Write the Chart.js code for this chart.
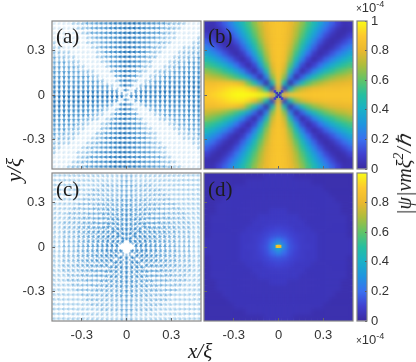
<!DOCTYPE html>
<html>
<head>
<meta charset="utf-8">
<script src="https://cdn.jsdelivr.net/npm/chart.js@4"></script>
<style>
html,body{margin:0;padding:0;background:#fff;}
#page{position:relative;width:416px;height:362px;overflow:hidden;}
canvas{position:absolute;}
.t{position:absolute;white-space:nowrap;color:#1c1c1c;font-family:"Liberation Serif",serif;line-height:1;}
.tag{font-size:21px;}
.math{font-size:21px;font-style:italic;}
.exp{font-family:"Liberation Sans",sans-serif;font-size:13px;color:#333;}
.exp small{font-size:10px;}
sup{font-size:70%;line-height:0;}
</style>
</head>
<body>
<div id="page">
  <canvas id="pa" style="left:0;top:19px"></canvas>
  <canvas id="pb" style="left:202px;top:19px"></canvas>
  <canvas id="pc" style="left:0;top:171px"></canvas>
  <canvas id="pd" style="left:202px;top:171px"></canvas>
  <canvas id="bar1" style="left:356px;top:11px"></canvas>
  <canvas id="bar2" style="left:356px;top:163px"></canvas>
  <div class="t tag" style="left:56px;top:26px">(a)</div>
  <div class="t tag" style="left:208px;top:26px">(b)</div>
  <div class="t tag" style="left:56px;top:179px">(c)</div>
  <div class="t tag" style="left:208px;top:179px">(d)</div>
  <div class="t math" style="left:188px;top:341px">x/ξ</div>
  <div class="t math" style="left:14px;top:170px;transform:translate(-50%,-50%) rotate(-90deg)">y/ξ</div>
  <div class="t math" style="left:404px;top:175px;font-size:20px;transform:translate(-50%,-50%) rotate(-90deg)">|ψ|vmξ<sup>2</sup>/ℏ</div>
  <div class="t exp" style="left:356px;top:1px"><small>×</small>10<sup>-4</sup></div>
  <div class="t exp" style="left:356px;top:333px"><small>×</small>10<sup>-4</sup></div>
</div>
<script>
// tick labels
const axisTicks = [-0.3, 0, 0.3];
const barTicksTop = [0, 0.2, 0.4, 0.6, 0.8, 1];
const barTicksBottom = [0, 0.2, 0.4, 0.6, 0.8];
const barRange = [1];

// colour map of the colour bars (position 0..100 -> colour)
const mapStops = [0, 10, 20, 30, 40, 50, 60, 70, 80, 90, 100];
const mapColors = ['#3a2aa0', '#4040d0', '#3a70f0', '#1f95e0', '#1ab0c8', '#25bfa0', '#60c468', '#acbd3c', '#eab82f', '#fdc82e', '#f9fb15'];

// arrow shade for magnitude level 0..9, one list per quiver panel
const arrowColorsA = ['#dcecf7', '#a8cfeb', '#8ec0e5', '#7ab5e0', '#68aadb', '#589fd5', '#4995cf', '#3a8ac9', '#2b7ec1', '#1e72b8'];
const arrowColorsC = ['#ffffff', '#bcdaef', '#a8d0ec', '#8abde3', '#74b0dd', '#60a4d7', '#4c97d0', '#3b8ac9', '#2b7ec1', '#1e72b8'];

// panel (a): arrow magnitude level per cell, top row first
const magA = [
'0000112445667889998776553221000',
'0000012245567889998766533210000',
'0000001244567789988765532100000',
'0000000124566789987765321100001',
'1000000122456789987653321000012',
'1100000012456789987653210001122',
'2211000001256789987632100012233',
'4221100001245689976532000122335',
'4442210000125689976320001233555',
'5544421000014679875210012355566',
'6555442210002579863101233556667',
'6666555421000469751012356667777',
'7776666554200169720135667777888',
'8877777666541049502567778888899',
'8888888887776406057888999999999',
'9999999999999982788888888888888',
'9999999998887506046777888888888',
'9988888777652059401456667777788',
'8887777665310279610024556666777',
'7777666532101579640001245556666',
'7666553321013689752000122445556',
'6655532100125789764100001244455',
'5553321000236799865210000122444',
'5332210002356799865421000011224',
'3322100012367899876521000001122',
'2211000123567899876542100000011',
'2100001233567899876542210000001',
'1000011235677899876654210000000',
'0000012355678899877654421000000',
'0000123356678999887655422100000',
'0001223556778999887665442110000'];

// panel (a): arrow direction per cell in 22.5 degree steps (hex digit, 0 = right, 4 = up)
const dirA = [
'aaa9999888888888888888889999aaa',
'aaaa99988888888888888888999aaaa',
'aaaa99998888888888888889999aaaa',
'baaaa999888888888888888999aaaab',
'bbaaaa9998888888888888999aaaabb',
'bbbbaaa99988888888888999aaabbbb',
'bbbbbaaa998888888888899aaabbbbb',
'ccbbbbaaa9988888888899aaabbbbcc',
'ccccbbbaaa98888888889aaabbbcccc',
'cccccbbbaa99888888899aabbbccccc',
'cccccccbbaa998888899aabbccccccc',
'cccccccccbba9888889abbccccccccc',
'ccccccccccbba98889abbcccccccccc',
'ccccccccccccba888abcccccccccccc',
'cccccccccccccba8abccccccccccccc',
'cccccccccccccccaccccccccccccccc',
'cccccccccccccba8abccccccccccccc',
'ccccccccccccba888abcccccccccccc',
'ccccccccccbba98889abbcccccccccc',
'cccccccccbba9888889abbccccccccc',
'cccccccbbaa998888899aabbccccccc',
'cccccbbbaa99888888899aabbbccccc',
'ccccbbbaaa98888888889aaabbbcccc',
'ccbbbbaaa9988888888899aaabbbbcc',
'bbbbbaaa998888888888899aaabbbbb',
'bbbbaaa99988888888888999aaabbbb',
'bbaaaa9998888888888888999aaaabb',
'baaaa999888888888888888999aaaab',
'aaaa99998888888888888889999aaaa',
'aaaa99988888888888888888999aaaa',
'aaa9999888888888888888889999aaa'];

// panel (c): arrow magnitude level per cell, top row first
const magC = [
'2222222222222233322222222222222',
'2222222222222234322222222222222',
'2222222222333344433332222222222',
'2222222233333344433333322222222',
'2222222333333345433333332222222',
'2222223333344455544433333222222',
'2222233334444456544444333322222',
'2222333344455566655544433332222',
'2223333444555567655554443333222',
'2223334445556667666555444333222',
'2233334455566667666655544333322',
'2233344555666777776665554433322',
'2233344556667777777666554433322',
'2233344556677777777766554433322',
'2233344556677770777766554433322',
'2233344556677700077766554433322',
'2233344556677770777766554433322',
'2233344556677777777766554433322',
'2233344556667777777666554433322',
'2233344555666777776665554433322',
'2233334455566667666655544333322',
'2223334445556667666555444333222',
'2223333444555567655554443333222',
'2222333344455566655544433332222',
'2222233334444456544444333322222',
'2222223333344455544433333222222',
'2222222333333345433333332222222',
'2222222233333344433333322222222',
'2222222222333344433332222222222',
'2222222222222234322222222222222',
'2222222222222233322222222222222'];

// panel (c): arrow direction per cell, same coding as dirA
const dirC = [
'000ffffeeeedddcccbbbaaaa9999888',
'0000ffffeeedddcccbbbaaa99998888',
'00000ffffeeeddcccbbaaa999988888',
'100000fffeeeddcccbbaaa999888887',
'110000ffffeeddcccbbaa9999888877',
'1110000fffeedddcbbbaa9998888777',
'11111000fffeeddcbbaa99988877777',
'211111000ffeeddcbbaa99888777776',
'2211111000ffeddcbba998887777766',
'22221111000feedcbaa988877776666',
'22222211100ffedcba9988777666666',
'332222221112eedcbaa677766666655',
'3333332222222eecaa6666666555555',
'33333333322222eca66666555555555',
'444443333333222c666555555544444',
'4444444444444444444444444444444',
'444445555555666c222333333344444',
'55555555566666ace22222333333333',
'5555556666666aacee2222222333333',
'556666667776aabcdee211122222233',
'6666667778899abcdeff00111222222',
'666677778889aabcdeef00011112222',
'667777788899abbcddeff0001111122',
'67777788899aabbcddeeff000111112',
'77777888999aabbcddeefff00011111',
'7778888999aabbbcdddeefff0000111',
'7788889999aabbcccddeeffff000011',
'788888999aaabbcccddeeefff000001',
'888889999aaabbcccddeeeffff00000',
'88889999aaabbbcccdddeeeffff0000',
'8889999aaaabbbcccdddeeeeffff000'];

// panel (b): |psi| in units of 1e-6, top row first
const heatB = [
[14,7,9,15,23,31,40,50,60,69,77,83,87,88,87,83,77,69,60,50,40,31,23,15,9,7,14],
[12,5,4,10,17,25,35,45,55,66,75,81,86,88,86,81,75,66,55,45,35,25,17,10,4,5,12],
[9,4,2,4,11,19,28,39,51,62,72,80,86,88,86,80,72,62,51,39,28,19,11,4,2,4,9],
[15,10,4,2,5,12,22,33,45,58,70,79,85,88,85,79,70,58,45,33,22,12,5,2,4,10,15],
[23,17,11,5,2,5,14,25,38,52,66,78,85,88,85,78,66,52,38,25,14,5,2,5,11,17,23],
[31,25,19,12,5,2,6,17,30,45,61,75,85,88,85,75,61,45,30,17,6,2,5,12,19,25,31],
[40,35,28,22,14,6,2,8,20,36,54,71,84,88,84,71,54,36,20,8,2,6,14,22,28,35,40],
[50,45,39,33,25,17,8,2,10,25,45,66,83,88,83,66,45,25,10,2,8,17,25,33,39,45,50],
[60,55,51,45,38,30,20,10,2,12,33,58,79,88,79,58,33,12,2,10,20,30,38,45,51,55,60],
[69,66,62,58,52,45,36,25,12,2,17,45,75,88,75,45,17,2,12,25,36,45,52,58,62,66,69],
[77,75,72,70,66,61,54,45,33,17,2,25,66,88,66,25,2,17,33,45,54,61,66,70,72,75,77],
[85,84,84,85,86,86,84,78,62,47,25,2,45,88,45,2,25,45,58,66,71,75,78,79,80,81,83],
[88,88,89,91,93,95,96,96,92,82,68,45,5,85,5,45,66,75,79,83,84,85,85,85,86,86,87],
[90,90,92,94,96,98,100,100,100,100,98,96,88,40,88,88,88,88,88,88,88,88,88,88,88,88,88],
[88,88,89,91,93,95,96,96,92,82,68,45,5,85,5,45,66,75,79,83,84,85,85,85,86,86,87],
[85,84,84,85,86,86,84,78,62,47,25,2,45,88,45,2,25,45,58,66,71,75,78,79,80,81,83],
[77,75,72,70,66,61,54,45,33,17,2,25,66,88,66,25,2,17,33,45,54,61,66,70,72,75,77],
[69,66,62,58,52,45,36,25,12,2,17,45,75,88,75,45,17,2,12,25,36,45,52,58,62,66,69],
[60,55,51,45,38,30,20,10,2,12,33,58,79,88,79,58,33,12,2,10,20,30,38,45,51,55,60],
[50,45,39,33,25,17,8,2,10,25,45,66,83,88,83,66,45,25,10,2,8,17,25,33,39,45,50],
[40,35,28,22,14,6,2,8,20,36,54,71,84,88,84,71,54,36,20,8,2,6,14,22,28,35,40],
[31,25,19,12,5,2,6,17,30,45,61,75,85,88,85,75,61,45,30,17,6,2,5,12,19,25,31],
[23,17,11,5,2,5,14,25,38,52,66,78,85,88,85,78,66,52,38,25,14,5,2,5,11,17,23],
[15,10,4,2,5,12,22,33,45,58,70,79,85,88,85,79,70,58,45,33,22,12,5,2,4,10,15],
[9,4,2,4,11,19,28,39,51,62,72,80,86,88,86,80,72,62,51,39,28,19,11,4,2,4,9],
[5,4,4,10,17,25,35,45,55,66,75,81,86,88,86,81,75,66,55,45,35,25,17,10,4,4,5],
[5,4,9,15,23,31,40,50,60,69,77,83,87,88,87,83,77,69,60,50,40,31,23,15,9,4,5]];

// dark cross at the middle of panel (b)
const coreX = [0, 0.012, -0.012, 0.012, -0.012, 0.024, -0.024, 0.024, -0.024];
const coreY = [0, 0.012, 0.012, -0.012, -0.012, 0.024, 0.024, -0.024, -0.024];
const coreV = [3, 5, 5, 5, 5, 10, 10, 10, 10];

// panel (d): |psi| in units of 1e-6, top row first
const heatD = [
[2,2,2,3,3,3,3,3,3,3,3,3,3,3,3,3,3,3,3,3,3,3,3,3,2,2,2],
[2,3,3,3,3,3,3,3,3,3,3,5,5,5,5,5,3,3,3,3,3,3,3,3,3,3,2],
[3,3,3,3,3,3,3,3,5,5,5,5,5,5,5,5,5,5,5,3,3,3,3,3,3,3,3],
[3,3,3,3,3,3,5,5,5,5,5,5,5,5,5,5,5,5,5,5,5,3,3,3,3,3,3],
[3,3,3,3,3,5,5,5,5,5,5,5,5,5,5,5,5,5,5,5,5,5,3,3,3,3,3],
[3,3,3,3,5,5,5,5,5,5,5,5,5,5,5,5,5,5,5,5,5,5,5,3,3,3,3],
[3,3,3,5,5,5,5,5,5,5,5,5,5,5,5,5,5,5,5,5,5,5,5,5,3,3,3],
[3,3,3,5,5,5,5,5,5,5,5,5,7,7,7,5,5,5,5,5,5,5,5,5,3,3,3],
[3,3,5,5,5,5,5,5,5,5,7,7,7,7,7,7,7,5,5,5,5,5,5,5,5,3,3],
[3,3,5,5,5,5,5,5,5,7,7,7,8,8,8,7,7,7,5,5,5,5,5,5,5,3,3],
[3,3,5,5,5,5,5,5,7,7,7,9,10,11,10,9,7,7,7,5,5,5,5,5,5,3,3],
[3,3,5,5,5,5,5,7,7,8,9,11,13,14,13,11,9,8,7,7,5,5,5,5,5,3,3],
[3,5,5,5,5,5,5,7,7,8,10,13,19,26,19,13,10,8,7,7,5,5,5,5,5,5,3],
[3,5,5,5,5,5,5,7,8,8,11,14,26,45,26,14,11,8,8,7,5,5,5,5,5,5,3],
[3,5,5,5,5,5,5,7,7,8,10,13,19,26,19,13,10,8,7,7,5,5,5,5,5,5,3],
[3,3,5,5,5,5,5,7,7,8,9,11,13,14,13,11,9,8,7,7,5,5,5,5,5,3,3],
[3,3,5,5,5,5,5,5,7,7,7,9,10,11,10,9,7,7,7,5,5,5,5,5,5,3,3],
[3,3,5,5,5,5,5,5,5,7,7,7,8,8,8,7,7,7,5,5,5,5,5,5,5,3,3],
[3,3,5,5,5,5,5,5,5,5,7,7,7,7,7,7,7,5,5,5,5,5,5,5,5,3,3],
[3,3,3,5,5,5,5,5,5,5,5,5,7,7,7,5,5,5,5,5,5,5,5,5,3,3,3],
[3,3,3,5,5,5,5,5,5,5,5,5,5,5,5,5,5,5,5,5,5,5,5,5,3,3,3],
[3,3,3,3,5,5,5,5,5,5,5,5,5,5,5,5,5,5,5,5,5,5,5,3,3,3,3],
[3,3,3,3,3,5,5,5,5,5,5,5,5,5,5,5,5,5,5,5,5,5,3,3,3,3,3],
[3,3,3,3,3,3,5,5,5,5,5,5,5,5,5,5,5,5,5,5,5,3,3,3,3,3,3],
[3,3,3,3,3,3,3,3,5,5,5,5,5,5,5,5,5,5,5,3,3,3,3,3,3,3,3],
[2,3,3,3,3,3,3,3,3,3,3,5,5,5,5,5,3,3,3,3,3,3,3,3,3,3,2],
[2,2,2,3,3,3,3,3,3,3,3,3,3,3,3,3,3,3,3,3,3,3,3,3,2,2,2]];

// hot spot in the middle of panel (d)
const peakX = [-0.009, 0, 0.009];
const peakY = [0.004, 0.004, 0.004];
const peakV = [84, 88, 84];

const AXIS_COLOR = '#333';
const FRAME_COLOR = '#858585';

function hexToRgb(h) {
  return [1, 3, 5].map(k => parseInt(h.substr(k, 2), 16));
}

function mapColor(v) {
  const k = Math.min(Math.floor(v / 10), 9);
  const f = (v - mapStops[k]) / 10;
  const a = hexToRgb(mapColors[k]);
  const b = hexToRgb(mapColors[k + 1]);
  const c = a.map((n, i) => Math.round(n + (b[i] - n) * f));
  return `rgb(${c[0]},${c[1]},${c[2]})`;
}

// one small arrow picture per magnitude level, drawn pointing right
function makeSprites(colors) {
  return colors.map((color, level) => {
    const c = document.createElement('canvas');
    c.width = 8;
    c.height = 8;
    const g = c.getContext('2d');
    const half = 2 + level * 0.13;
    g.strokeStyle = color;
    g.fillStyle = color;
    g.lineWidth = 1;
    g.beginPath();
    g.moveTo(4 - half, 4);
    g.lineTo(4 + half, 4);
    g.stroke();
    g.beginPath();
    g.moveTo(4 + half + 0.4, 4);
    g.lineTo(4 + half - 2.6, 2);
    g.lineTo(4 + half - 2.6, 6);
    g.closePath();
    g.fill();
    return c;
  });
}

function quiverPoints(mags, dirs) {
  const pts = [];
  mags.forEach((row, r) => {
    for (let i = 0; i < row.length; i++) {
      pts.push({
        x: -0.5 + (i + 0.5) / 31,
        y: 0.5 - (r + 0.5) / 31,
        m: parseInt(row[i], 16),
        d: parseInt(dirs[r][i], 16)
      });
    }
  });
  return pts;
}

function heatPoints(rows) {
  const pts = [];
  rows.forEach((row, r) => {
    row.forEach((v, i) => {
      pts.push({ x: -0.52 + i * 0.04, y: 0.52 - r * 0.04, v });
    });
  });
  return pts;
}

// box round the axes area, as the matlab axes have
const framePlugin = {
  id: 'frame',
  afterDraw(chart) {
    const a = chart.chartArea;
    const g = chart.ctx;
    g.save();
    g.strokeStyle = FRAME_COLOR;
    g.lineWidth = 1.2;
    g.strokeRect(a.left, a.top, a.right - a.left, a.bottom - a.top);
    g.restore();
  }
};

// softens the cells of a heat panel once they are drawn
const softPlugin = {
  id: 'soft',
  afterDatasetDraw(chart, args) {
    if (args.index !== 0) return;
    const a = chart.chartArea;
    const g = chart.ctx;
    const copy = document.createElement('canvas');
    copy.width = chart.canvas.width;
    copy.height = chart.canvas.height;
    copy.getContext('2d').drawImage(chart.canvas, 0, 0);
    g.save();
    g.beginPath();
    g.rect(a.left, a.top, a.right - a.left, a.bottom - a.top);
    g.clip();
    g.filter = 'blur(2px)';
    g.drawImage(copy, 0, 0);
    g.restore();
  }
};

function noMargins(s) {
  s.paddingTop = 0;
  s.paddingBottom = 0;
  s.paddingLeft = 0;
  s.paddingRight = 0;
}

function panelScales(showX, showY) {
  const base = {
    type: 'linear',
    min: -0.5,
    max: 0.5,
    border: { display: false },
    grid: { drawOnChartArea: false, tickLength: -3, color: '#666', z: 2 },
    afterBuildTicks(s) { s.ticks = axisTicks.map(value => ({ value })); }
  };
  const label = v => (v === 0 ? '0' : v.toFixed(1));
  return {
    x: {
      ...base,
      ticks: { display: showX, color: AXIS_COLOR, padding: 10, maxRotation: 0, font: { family: 'Liberation Sans', size: 13 }, callback: label },
      afterFit(s) { s.height = showX ? 30 : 0; noMargins(s); }
    },
    y: {
      ...base,
      ticks: { display: showY, color: AXIS_COLOR, padding: 10, font: { family: 'Liberation Sans', size: 13 }, callback: label },
      afterFit(s) { s.width = showY ? 50 : 0; noMargins(s); }
    }
  };
}

function panelChart(id, w, h, datasets, showX, showY, pad, plugins) {
  const el = document.getElementById(id);
  el.width = w;
  el.height = h;
  return new Chart(el, {
    type: 'scatter',
    data: { datasets },
    options: {
      responsive: false,
      animation: false,
      events: [],
      layout: { padding: pad, autoPadding: false },
      plugins: { legend: { display: false }, tooltip: { enabled: false } },
      scales: panelScales(showX, showY)
    },
    plugins
  });
}

function quiverDataset(mags, dirs, colors) {
  const sprites = makeSprites(colors);
  return {
    data: quiverPoints(mags, dirs),
    pointRadius: 3,
    pointStyle: c => (c.raw ? sprites[c.raw.m] : 'circle'),
    pointRotation: c => (c.raw ? -c.raw.d * 22.5 : 0)
  };
}

function heatDataset(rows) {
  return {
    data: heatPoints(rows),
    order: 2,
    pointStyle: 'rect',
    pointRadius: 4.4,
    borderWidth: 0,
    backgroundColor: c => (c.raw ? mapColor(c.raw.v) : '#000')
  };
}

// small crisp cells drawn over the softened ones
function detailDataset(xs, ys, vs, radius) {
  return {
    data: xs.map((x, i) => ({ x, y: ys[i], v: vs[i] })),
    order: 1,
    pointStyle: 'rect',
    pointRadius: radius,
    borderWidth: 0,
    backgroundColor: c => (c.raw ? mapColor(c.raw.v) : '#000')
  };
}

panelChart('pa', 203, 152, [quiverDataset(magA, dirA, arrowColorsA)], false, true, { top: 2, right: 2, bottom: 2, left: 2 }, [framePlugin]);
panelChart('pc', 203, 180, [quiverDataset(magC, dirC, arrowColorsC)], true, true, { top: 2, right: 2, bottom: 0, left: 2 }, [framePlugin]);
panelChart('pb', 153, 152, [heatDataset(heatB), detailDataset(coreX, coreY, coreV, 1.8)], false, false, { top: 2, right: 2, bottom: 2, left: 2 }, [softPlugin, framePlugin]);
panelChart('pd', 153, 180, [heatDataset(heatD), detailDataset(peakX, peakY, peakV, 2.2)], true, false, { top: 2, right: 2, bottom: 0, left: 2 }, [softPlugin, framePlugin]);

function barChart(id, ticks) {
  const el = document.getElementById(id);
  el.width = 50;
  el.height = 168;
  return new Chart(el, {
    type: 'bar',
    data: {
      labels: [''],
      datasets: [{
        data: barRange,
        barPercentage: 1,
        categoryPercentage: 1,
        backgroundColor(c) {
          const a = c.chart.chartArea;
          if (!a) return '#000';
          const grad = c.chart.ctx.createLinearGradient(0, a.bottom, 0, a.top);
          mapStops.forEach((s, i) => grad.addColorStop(s / 100, mapColors[i]));
          return grad;
        }
      }]
    },
    options: {
      responsive: false,
      animation: false,
      events: [],
      layout: { padding: { top: 10, bottom: 10, left: 1, right: 0 }, autoPadding: false },
      plugins: { legend: { display: false }, tooltip: { enabled: false } },
      scales: {
        x: { display: false },
        y: {
          position: 'right',
          min: 0,
          max: 1,
          border: { display: false },
          grid: { drawOnChartArea: false, tickLength: -2, color: '#555', z: 2 },
          ticks: { color: AXIS_COLOR, padding: 6, font: { family: 'Liberation Sans', size: 13 }, callback: v => String(v) },
          afterBuildTicks(s) { s.ticks = ticks.map(value => ({ value })); },
          afterFit(s) { s.width = 39; noMargins(s); }
        }
      }
    },
    plugins: [framePlugin]
  });
}

barChart('bar1', barTicksTop);
barChart('bar2', barTicksBottom);
</script>
</body>
</html>
